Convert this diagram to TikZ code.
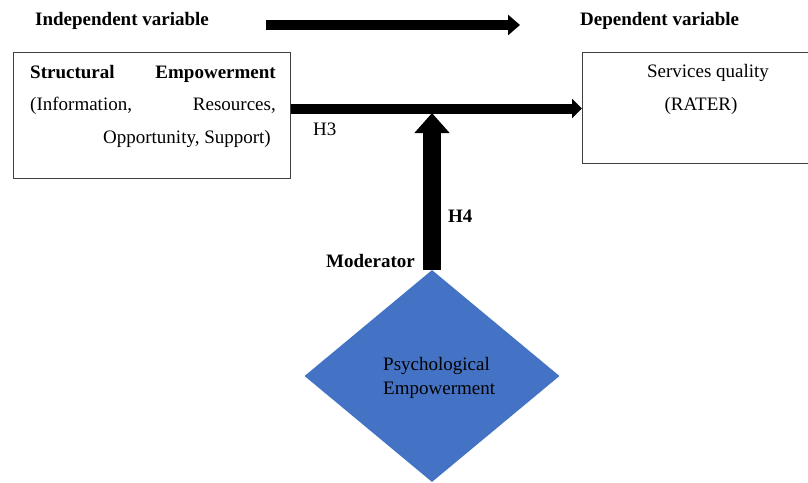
\documentclass[tikz,border=0pt]{standalone}
\usepackage{fontspec}
\setmainfont{Liberation Serif}
\usetikzlibrary{arrows.meta,shapes.geometric}
\definecolor{diablue}{HTML}{4472C4}
\tikzset{
  box/.style={draw=black!75,line width=1pt,inner sep=0pt},
  lbl/.style={inner sep=0pt,font=\fontsize{19}{21}\selectfont},
  blbl/.style={lbl,font=\fontsize{19}{21}\selectfont\bfseries},
  bigarrow/.style={line width=10pt,-{Triangle[length=12pt,width=20pt]}},
  midarrow/.style={line width=10pt,-{Triangle[length=10pt,width=19pt]}},
  vertarrow/.style={line width=18pt,-{Triangle[length=20pt,width=34pt]}},
}
\begin{document}
\begin{tikzpicture}[x=1pt,y=-1pt]
\useasboundingbox (0,0) rectangle (808,482);
% boxes
\node[box,minimum width=277pt,minimum height=126pt,anchor=north west] (sbox) at (13,52) {};
\node[box,minimum width=230pt,minimum height=111pt,anchor=north west] (qbox) at (582,52) {};
% diamond
\node[diamond,fill=diablue,minimum width=255pt,minimum height=212pt,inner sep=0pt] (psy) at (432,376) {};
% top labels
\node[blbl,anchor=base west] (indep) at (35,25) {Independent variable};
\node[blbl,anchor=base west] (dep) at (580,25) {Dependent variable};
\coordinate (ta) at (266,25);
\coordinate (tb) at (520,25);
\draw[bigarrow] (ta) -- (tb);
% left box text
\node[blbl,anchor=base west] (s1) at (30,78) {Structural};
\node[blbl,anchor=base east] (s2) at (276,78) {Empowerment};
\node[lbl,anchor=base west] (s3) at (30,110) {(Information,};
\node[lbl,anchor=base east] (s4) at (276,110) {Resources,};
\node[lbl,anchor=base east] (s5) at (271,143) {Opportunity, Support)};
% right box text
\node[lbl,anchor=base] (q1) at (708,77) {Services quality};
\node[lbl,anchor=base] (q2) at (701,110) {(RATER)};
% horizontal arrow
\coordinate (ha) at (sbox.east |- 0,108.5);
\coordinate (hb) at (qbox.west |- 0,108.5);
\draw[midarrow] (ha) -- (hb);
% vertical arrow
\coordinate (vb) at (432,113);
\draw[vertarrow] (psy.north) -- (vb);
% hypothesis labels
\node[lbl,anchor=base west] (h3) at (313,135) {H3};
\node[blbl,anchor=base west] (h4) at (448,222) {H4};
\node[blbl,anchor=base east] (mod) at (415,267) {Moderator};
% diamond text
\node[lbl,anchor=base west] (p1) at (383,370) {Psychological};
\node[lbl,anchor=base west] (p2) at (383,394) {Empowerment};
\end{tikzpicture}
\end{document}
